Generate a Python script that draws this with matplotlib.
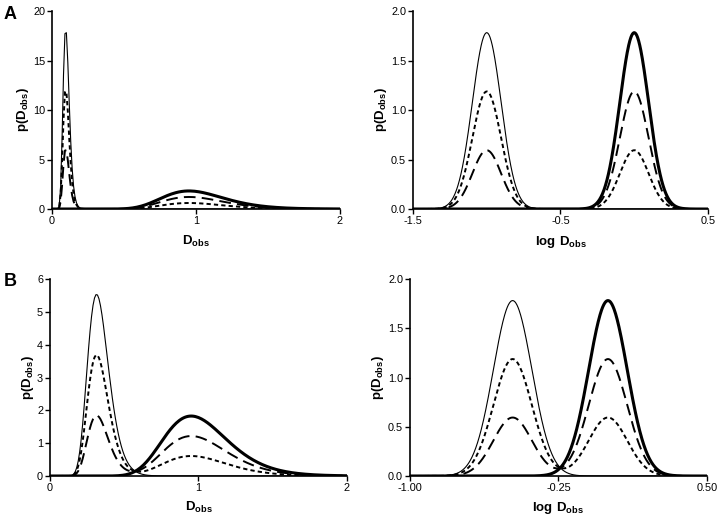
import numpy as np
import matplotlib
matplotlib.use("Agg")
import matplotlib.pyplot as plt

plt.rcParams['font.family'] = ['Liberation Sans', 'DejaVu Sans']
plt.rcParams['mathtext.fontset'] = 'custom'
plt.rcParams['mathtext.rm'] = 'Liberation Sans'
plt.rcParams['mathtext.bf'] = 'Liberation Sans:bold'

# ---- data ----
medians_A = [0.1, 1.0]          # fast, slow component medians (panel A)
medians_B = [0.33, 1.0]         # fast, slow component medians (panel B)
sigma_ln = 0.224                # log-normal width (natural-log units)
fast_fraction = [1.0, 2/3, 1/3, 0.0]   # thin solid, dotted, dashed, thick solid

lin_xticks = [0, 1, 2]
A_lin_yticks = [0, 5, 10, 15, 20]
B_lin_yticks = [0, 1, 2, 3, 4, 5, 6]
log_yticks = [0.0, 0.5, 1.0, 1.5, 2.0]
log_yticklabels = ['0.0', '0.5', '1.0', '1.5', '2.0']
A_log_xticks = [-1.5, -0.5, 0.5]
A_log_xticklabels = ['-1.5', '-0.5', '0.5']
B_log_xticks = [-1.00, -0.25, 0.50]
B_log_xticklabels = ['-1.00', '-0.25', '0.50']

styles = [
    dict(color='black', lw=0.8, ls='-'),
    dict(color='black', lw=1.4, ls=(0, (2.2, 1.6))),
    dict(color='black', lw=1.4, ls=(0, (6.0, 3.2))),
    dict(color='black', lw=2.2, ls='-'),
]


def lin_density(x, medians, f):
    fr = [f, 1 - f]
    return sum(w / (x * sigma_ln * np.sqrt(2 * np.pi)) *
               np.exp(-(np.log(x) - np.log(m)) ** 2 / (2 * sigma_ln ** 2))
               for w, m in zip(fr, medians))


def log_density(x, medians, f):
    fr = [f, 1 - f]
    return sum(w / (sigma_ln * np.sqrt(2 * np.pi)) *
               np.exp(-(np.log(10) * (x - np.log10(m))) ** 2 / (2 * sigma_ln ** 2))
               for w, m in zip(fr, medians))


fig = plt.figure(figsize=(7.2, 5.17), dpi=100)

axes_pos = {
    'A_lin': [0.0722, 0.5957, 0.400, 0.383],
    'A_log': [0.5736, 0.5957, 0.4097, 0.383],
    'B_lin': [0.0694, 0.0793, 0.4125, 0.381],
    'B_log': [0.5694, 0.0793, 0.4125, 0.381],
}

ylab = r'$\mathbf{p(D_{obs})}$'
LABEL_FS = 9.5
TICK_FS = 7.8


def style_axes(ax):
    for s in ['top', 'right']:
        ax.spines[s].set_visible(False)
    for s in ['left', 'bottom']:
        ax.spines[s].set_linewidth(1.2)
    ax.tick_params(direction='out', length=3.5, width=1.0, labelsize=TICK_FS, pad=1.5)
    ax.set_ylabel(ylab, fontsize=LABEL_FS, labelpad=1)


x_lin = np.linspace(0, 2, 201)[1:]

# A linear
ax = fig.add_axes(axes_pos['A_lin'])
for f, st in zip(fast_fraction, styles):
    ax.plot(x_lin, lin_density(x_lin, medians_A, f), **st)
ax.set_xlim(0, 2); ax.set_ylim(0, 20)
ax.set_xticks(lin_xticks); ax.set_yticks(A_lin_yticks)
style_axes(ax)
ax.set_xlabel(r'$\mathbf{D_{obs}}$', fontsize=LABEL_FS, labelpad=6)

# A log
ax = fig.add_axes(axes_pos['A_log'])
x = np.linspace(-1.5, 0.5, 801)
for f, st in zip(fast_fraction, styles):
    ax.plot(x, log_density(x, medians_A, f), **st)
ax.set_xlim(-1.5, 0.5); ax.set_ylim(0, 2.0)
ax.set_xticks(A_log_xticks); ax.set_yticks(log_yticks)
ax.set_xticklabels(A_log_xticklabels)
ax.set_yticklabels(log_yticklabels)
style_axes(ax)
ax.set_xlabel(r'$\mathbf{log\ D_{obs}}$', fontsize=LABEL_FS, labelpad=6)

# B linear
ax = fig.add_axes(axes_pos['B_lin'])
for f, st in zip(fast_fraction, styles):
    ax.plot(x_lin, lin_density(x_lin, medians_B, f), **st)
ax.set_xlim(0, 2); ax.set_ylim(0, 6)
ax.set_xticks(lin_xticks); ax.set_yticks(B_lin_yticks)
style_axes(ax)
ax.set_xlabel(r'$\mathbf{D_{obs}}$', fontsize=LABEL_FS, labelpad=5)

# B log
ax = fig.add_axes(axes_pos['B_log'])
x = np.linspace(-1.0, 0.5, 801)
for f, st in zip(fast_fraction, styles):
    ax.plot(x, log_density(x, medians_B, f), **st)
ax.set_xlim(-1.0, 0.5); ax.set_ylim(0, 2.0)
ax.set_xticks(B_log_xticks); ax.set_yticks(log_yticks)
ax.set_xticklabels(B_log_xticklabels)
ax.set_yticklabels(log_yticklabels)
style_axes(ax)
ax.set_xlabel(r'$\mathbf{log\ D_{obs}}$', fontsize=LABEL_FS, labelpad=5)

fig.text(0.005, 0.988, 'A', fontsize=13, fontweight='bold', va='top')
fig.text(0.005, 0.472, 'B', fontsize=13, fontweight='bold', va='top')

fig.savefig('out.png', dpi=100)
